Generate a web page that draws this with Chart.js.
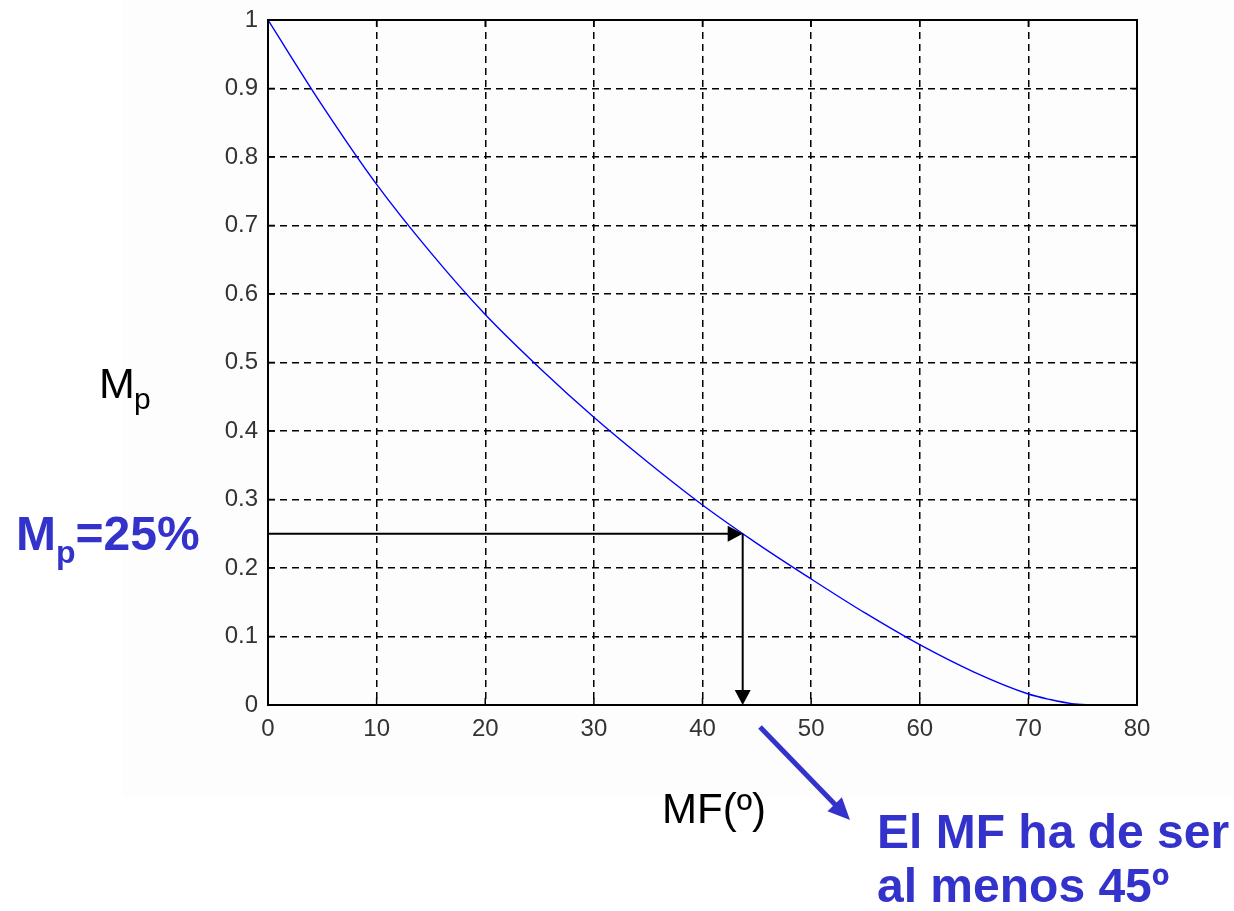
<!DOCTYPE html>
<html>
<head>
<meta charset="utf-8">
<script src="https://cdn.jsdelivr.net/npm/chart.js@4/dist/chart.umd.min.js"></script>
<style>
  html, body { margin: 0; padding: 0; background: #fff; }
  #wrap { width: 1234px; height: 911px; position: relative; }
</style>
</head>
<body>
<div id="wrap"><canvas id="chart" width="1234" height="911"></canvas></div>
<script>
// phase margin (MF, degrees) vs overshoot (Mp)
var mfValues = [0, 5, 10, 15, 20, 25, 30, 35, 40, 45, 50, 55, 60, 65, 70, 72, 74, 76];
var mpValues = [1.0, 0.875, 0.76, 0.66, 0.57, 0.492, 0.42, 0.354, 0.292, 0.236, 0.184, 0.134, 0.088, 0.048, 0.016, 0.008, 0.002, 0.0];

var xTicks = [0, 10, 20, 30, 40, 50, 60, 70, 80];
var yTicks = [0, 0.1, 0.2, 0.3, 0.4, 0.5, 0.6, 0.7, 0.8, 0.9, 1];

var mpTarget = 0.25;
var mfAtTarget = 43.7;

var blue = '#3333cc';

function curvePoints() {
  var pts = [];
  for (let i = 0; i < mfValues.length; i++) {
    pts.push({x: mfValues[i], y: mpValues[i]});
  }
  return pts;
}

function arrowHead(ctx, x, y, ang, len, half) {
  ctx.beginPath();
  ctx.moveTo(x, y);
  ctx.lineTo(x - len * Math.cos(ang) + half * Math.sin(ang), y - len * Math.sin(ang) - half * Math.cos(ang));
  ctx.lineTo(x - len * Math.cos(ang) - half * Math.sin(ang), y - len * Math.sin(ang) + half * Math.cos(ang));
  ctx.closePath();
  ctx.fill();
}

var decor = {
  id: 'decor',
  beforeDraw: function(chart) {
    var ctx = chart.ctx;
    ctx.save();
    ctx.fillStyle = '#fdfdfd';
    ctx.fillRect(122, 0, 1234 - 122, 797);
    ctx.restore();
  },
  afterDatasetsDraw: function(chart) {
    var ctx = chart.ctx;
    var a = chart.chartArea;
    var xs = chart.scales.x, ys = chart.scales.y;
    ctx.save();
    // box
    ctx.strokeStyle = '#000';
    ctx.lineWidth = 2;
    ctx.strokeRect(a.left, a.top, a.right - a.left, a.bottom - a.top);
    // inward ticks
    ctx.lineWidth = 1.5;
    ctx.beginPath();
    xTicks.forEach(function(v) {
      var px = xs.getPixelForValue(v);
      ctx.moveTo(px, a.bottom); ctx.lineTo(px, a.bottom - 7);
      ctx.moveTo(px, a.top); ctx.lineTo(px, a.top + 7);
    });
    yTicks.forEach(function(v) {
      var py = ys.getPixelForValue(v);
      ctx.moveTo(a.left, py); ctx.lineTo(a.left + 7, py);
      ctx.moveTo(a.right, py); ctx.lineTo(a.right - 7, py);
    });
    ctx.stroke();

    // reading arrows
    var x0 = xs.getPixelForValue(0);
    var xt = xs.getPixelForValue(mfAtTarget);
    var yt = ys.getPixelForValue(mpTarget);
    var y0 = ys.getPixelForValue(0);
    ctx.fillStyle = '#000';
    ctx.lineWidth = 2;
    ctx.beginPath();
    ctx.moveTo(x0, yt); ctx.lineTo(xt - 12, yt);
    ctx.moveTo(xt, yt); ctx.lineTo(xt, y0 - 12);
    ctx.stroke();
    arrowHead(ctx, xt, yt, 0, 15, 8);
    arrowHead(ctx, xt, y0, Math.PI / 2, 15, 8);
    ctx.restore();
  },
  afterDraw: function(chart) {
    var ctx = chart.ctx;
    ctx.save();
    ctx.textBaseline = 'alphabetic';
    ctx.textAlign = 'left';

    // y label
    ctx.fillStyle = '#000';
    ctx.font = '43px "Liberation Sans", Arial, sans-serif';
    ctx.fillText('M', 99, 398);
    ctx.font = '30px "Liberation Sans", Arial, sans-serif';
    ctx.fillText('p', 134, 409);

    // x label
    ctx.font = '42px "Liberation Sans", Arial, sans-serif';
    ctx.fillText('MF(º)', 662, 823);

    // Mp=25%
    ctx.fillStyle = blue;
    ctx.font = 'bold 48px "Liberation Sans", Arial, sans-serif';
    ctx.fillText('M', 16, 550);
    var w = ctx.measureText('M').width;
    ctx.font = 'bold 32px "Liberation Sans", Arial, sans-serif';
    ctx.fillText('p', 16 + w, 563);
    var w2 = ctx.measureText('p').width;
    ctx.font = 'bold 48px "Liberation Sans", Arial, sans-serif';
    ctx.fillText('=25%', 16 + w + w2, 550);

    // note
    ctx.fillText('El MF ha de ser', 877, 848);
    ctx.fillText('al menos 45º', 877, 902);

    // blue arrow
    ctx.strokeStyle = blue;
    ctx.lineWidth = 5;
    var sx = 760, sy = 727, ex = 850, ey = 820;
    var ang = Math.atan2(ey - sy, ex - sx);
    ctx.beginPath();
    ctx.moveTo(sx, sy);
    ctx.lineTo(ex - 18 * Math.cos(ang), ey - 18 * Math.sin(ang));
    ctx.stroke();
    arrowHead(ctx, ex, ey, ang, 22, 10);
    ctx.restore();
  }
};

var tickFont = {family: '"Liberation Sans", Arial, sans-serif', size: 24};

new Chart(document.getElementById('chart'), {
  type: 'line',
  data: {
    datasets: [{
      data: curvePoints(),
      borderColor: '#0000ff',
      borderWidth: 1.4,
      pointRadius: 0,
      cubicInterpolationMode: 'monotone',
      fill: false
    }]
  },
  options: {
    responsive: false,
    animation: false,
    layout: { padding: {left: 0, top: 20, right: 97, bottom: 156} },
    plugins: { legend: {display: false}, tooltip: {enabled: false} },
    scales: {
      x: {
        type: 'linear',
        min: 0,
        max: 80,
        afterFit: function(s) { s.height = 50; s.paddingLeft = 0; s.paddingRight = 0; },
        afterBuildTicks: function(s) { s.ticks = xTicks.map(function(v) { return {value: v}; }); },
        ticks: { color: '#333', font: tickFont, padding: 10, maxRotation: 0,
                 callback: function(v) { return String(v); } },
        grid: { color: '#000', lineWidth: 1.5, drawTicks: false },
        border: { display: false, dash: [7, 5] }
      },
      y: {
        type: 'linear',
        min: 0,
        max: 1,
        afterFit: function(s) { s.width = 268; s.paddingTop = 0; s.paddingBottom = 0; },
        afterBuildTicks: function(s) { s.ticks = yTicks.map(function(v) { return {value: v}; }); },
        ticks: { color: '#333', font: tickFont, padding: 10,
                 callback: function(v) { return String(v); } },
        grid: { color: '#000', lineWidth: 1.5, drawTicks: false },
        border: { display: false, dash: [7, 5] }
      }
    }
  },
  plugins: [decor]
});
</script>
</body>
</html>
